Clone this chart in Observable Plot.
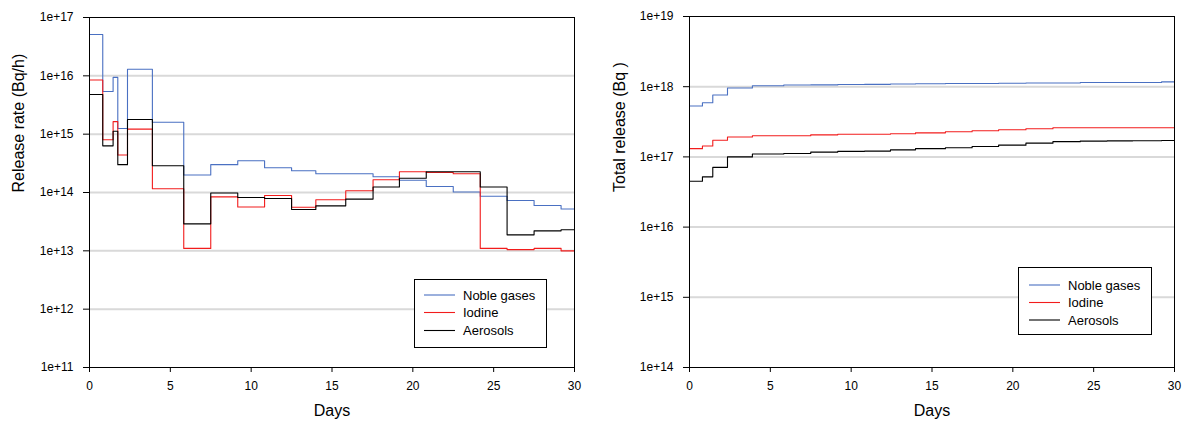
<!DOCTYPE html>
<html><head><meta charset="utf-8">
<script src="https://cdn.jsdelivr.net/npm/d3@7"></script>
<script src="https://cdn.jsdelivr.net/npm/@observablehq/plot@0.6"></script>
<style>
body{margin:0;background:#fff;font-family:"Liberation Sans",Arial,sans-serif;}
#wrap{position:relative;width:1186px;height:426px;overflow:hidden;background:#fff;}
.panel{position:absolute;top:0;}
.legend{position:absolute;}
</style></head><body><div id="wrap"></div>
<script>
// ---- Data ----
const seriesNames = ["Noble gases", "Iodine", "Aerosols"];
const seriesColors = ["#4a70c2", "#f21c1c", "#000000"];

const xTicks = [0, 5, 10, 15, 20, 25, 30];
const xLabel = "Days";

// Left: release rate step boundaries (days) and values (Bq/h) per interval
const rateDays = [0, 0.82, 1.46, 1.75, 2.35, 3.89, 5.83, 7.5, 9.17, 10.83, 12.5, 14.0, 15.85, 17.54, 19.17, 20.83, 22.5, 24.17, 25.83, 27.5, 29.17, 30];
const rateNoble = [5.1e16, 5.4e15, 9.4e15, 1.25e15, 1.3e16, 1.6e15, 2.0e14, 3.0e14, 3.5e14, 2.65e14, 2.36e14, 2.1e14, 2.1e14, 1.86e14, 1.62e14, 1.27e14, 1.02e14, 8.6e13, 7.3e13, 6.0e13, 5.2e13];
const rateIodine = [8.5e15, 8.0e14, 1.64e15, 4.4e14, 1.22e15, 1.16e14, 1.1e13, 8.4e13, 5.65e13, 8.9e13, 5.6e13, 7.5e13, 1.07e14, 1.65e14, 2.27e14, 2.2e14, 2.1e14, 1.1e13, 1.05e13, 1.1e13, 1.0e13];
const rateAerosols = [4.8e15, 6.3e14, 1.12e15, 3.0e14, 1.78e15, 2.87e14, 2.9e13, 9.8e13, 8.2e13, 7.9e13, 5.1e13, 5.9e13, 7.7e13, 1.24e14, 1.76e14, 2.27e14, 2.27e14, 1.24e14, 1.88e13, 2.2e13, 2.3e13];
const rateYTicks = [1e11, 1e12, 1e13, 1e14, 1e15, 1e16, 1e17];
const rateYTickLabels = ["1e+11", "1e+12", "1e+13", "1e+14", "1e+15", "1e+16", "1e+17"];
const rateYLabel = "Release rate (Bq/h)";

// Right: total release step boundaries (days) and values (Bq) per interval
const totalDays = [0, 0.8, 1.44, 2.35, 3.89, 5.83, 7.5, 9.17, 10.83, 12.43, 13.98, 15.83, 17.48, 19.12, 20.81, 22.48, 24.17, 25.83, 27.4, 29.2, 30];
const totalNoble = [5.3e17, 5.9e17, 7.6e17, 9.6e17, 1.03e18, 1.055e18, 1.06e18, 1.075e18, 1.08e18, 1.09e18, 1.10e18, 1.11e18, 1.11e18, 1.12e18, 1.13e18, 1.13e18, 1.15e18, 1.15e18, 1.15e18, 1.17e18];
const totalIodine = [1.31e17, 1.43e17, 1.73e17, 1.92e17, 2.0e17, 2.0e17, 2.06e17, 2.1e17, 2.1e17, 2.14e17, 2.2e17, 2.28e17, 2.36e17, 2.44e17, 2.52e17, 2.6e17, 2.6e17, 2.6e17, 2.6e17, 2.6e17];
const totalAerosols = [4.5e16, 5.2e16, 7.1e16, 1.0e17, 1.1e17, 1.12e17, 1.17e17, 1.2e17, 1.21e17, 1.26e17, 1.31e17, 1.35e17, 1.41e17, 1.47e17, 1.57e17, 1.65e17, 1.68e17, 1.69e17, 1.7e17, 1.71e17];
const totalYTicks = [1e14, 1e15, 1e16, 1e17, 1e18, 1e19];
const totalYTickLabels = ["1e+14", "1e+15", "1e+16", "1e+17", "1e+18", "1e+19"];
const totalYLabel = "Total release (Bq )";

// ---- Build ----
function rowsFrom(days, valueLists) {
  const rows = [];
  valueLists.forEach((vals, s) => {
    vals.forEach((v, i) => rows.push({series: seriesNames[s], day: days[i], value: v}));
    rows.push({series: seriesNames[s], day: days[days.length - 1], value: vals[vals.length - 1]});
  });
  return rows;
}

function makePlot(o) {
  const rows = rowsFrom(o.days, o.values);
  return Plot.plot({
    width: o.width, height: 426,
    marginLeft: o.marginLeft, marginRight: o.marginRight, marginTop: o.marginTop, marginBottom: o.marginBottom,
    x: {domain: [0, 30]},
    y: {type: "log", domain: [o.yTicks[0], o.yTicks[o.yTicks.length - 1]]},
    color: {domain: seriesNames, range: seriesColors},
    style: {fontFamily: "'Liberation Sans', Arial, sans-serif", fontSize: "12px", color: "#000", background: "transparent", overflow: "visible"},
    marks: [
      Plot.ruleY(o.yTicks.slice(1, -1), {stroke: "#d9d9d9", strokeWidth: 2}),
      Plot.line(rows, {x: "day", y: "value", z: "series", stroke: "series", curve: "step-after", strokeWidth: 1.1}),
      Plot.axisY({ticks: o.yTicks, tickSize: 6, tickPadding: 10, label: null,
        tickFormat: d => o.yTickLabels[o.yTicks.indexOf(d)]}),
      Plot.axisX({ticks: xTicks, tickSize: 5, tickPadding: 9, label: null, tickFormat: d => String(d)}),
      Plot.frame({stroke: "#000", strokeWidth: 1}),
      Plot.text([xLabel], {frameAnchor: "bottom", dy: 48, fontSize: 16, fill: "#000"}),
      Plot.text([o.yLabel], {frameAnchor: "left", dx: o.labelDx, rotate: -90, fontSize: 16, fill: "#000"})
    ]
  });
}

function makeLegend(left, top, w, h, rowYs, lx1, lx2, tx) {
  const ns = "http://www.w3.org/2000/svg";
  const svg = document.createElementNS(ns, "svg");
  svg.setAttribute("width", w); svg.setAttribute("height", h);
  svg.setAttribute("class", "legend");
  svg.style.left = left + "px"; svg.style.top = top + "px";
  const r = document.createElementNS(ns, "rect");
  r.setAttribute("x", 0.5); r.setAttribute("y", 0.5); r.setAttribute("width", w - 1); r.setAttribute("height", h - 1);
  r.setAttribute("fill", "#fff"); r.setAttribute("stroke", "#000");
  svg.appendChild(r);
  seriesNames.forEach((name, i) => {
    const l = document.createElementNS(ns, "line");
    l.setAttribute("x1", lx1); l.setAttribute("x2", lx2);
    l.setAttribute("y1", rowYs[i]); l.setAttribute("y2", rowYs[i]);
    l.setAttribute("stroke", seriesColors[i]); l.setAttribute("stroke-width", 1.1);
    svg.appendChild(l);
    const t = document.createElementNS(ns, "text");
    t.setAttribute("x", tx); t.setAttribute("y", rowYs[i]);
    t.setAttribute("dominant-baseline", "central");
    t.setAttribute("font-family", "'Liberation Sans', Arial, sans-serif");
    t.setAttribute("font-size", 13);
    t.textContent = name;
    svg.appendChild(t);
  });
  return svg;
}

const wrap = document.getElementById("wrap");

const left = makePlot({
  days: rateDays, values: [rateNoble, rateIodine, rateAerosols],
  yTicks: rateYTicks, yTickLabels: rateYTickLabels, yLabel: rateYLabel,
  width: 593, marginLeft: 89, marginRight: 19, marginTop: 17, marginBottom: 59, labelDx: -71
});
left.classList.add("panel"); left.style.left = "0px";
wrap.appendChild(left);

const right = makePlot({
  days: totalDays, values: [totalNoble, totalIodine, totalAerosols],
  yTicks: totalYTicks, yTickLabels: totalYTickLabels, yLabel: totalYLabel,
  width: 593, marginLeft: 96, marginRight: 12, marginTop: 16, marginBottom: 59, labelDx: -70
});
right.classList.add("panel"); right.style.left = "593px";
wrap.appendChild(right);

wrap.appendChild(makeLegend(414, 279, 133, 69, [16, 33.5, 51.5], 10, 41, 49));
wrap.appendChild(makeLegend(1018, 267, 134, 68, [18, 35.5, 53], 11, 42, 50));
</script></body></html>
